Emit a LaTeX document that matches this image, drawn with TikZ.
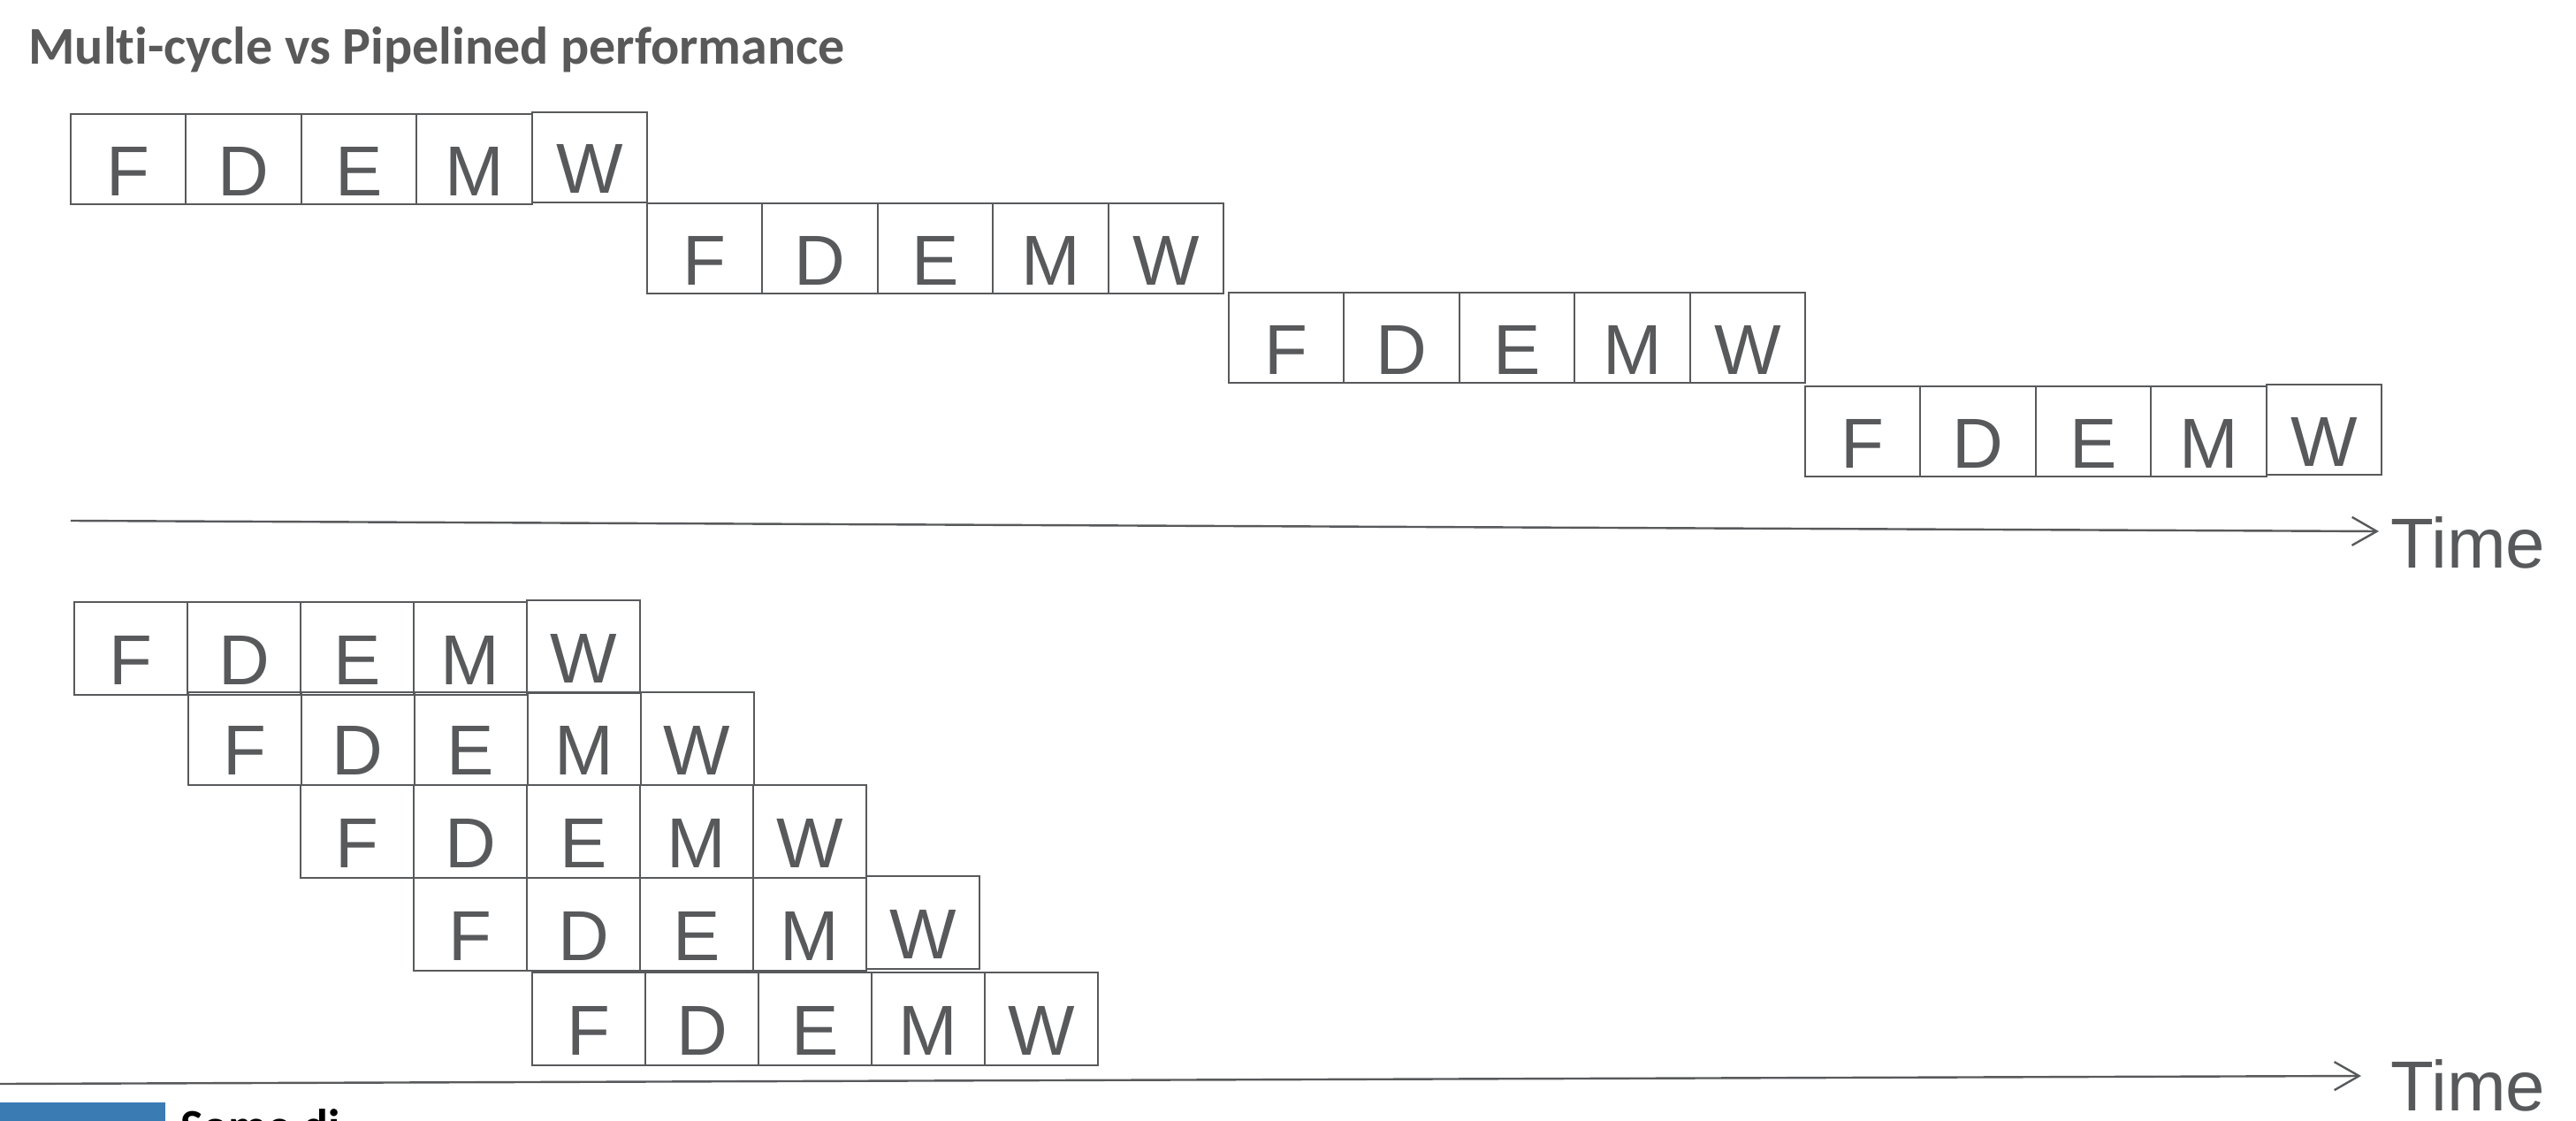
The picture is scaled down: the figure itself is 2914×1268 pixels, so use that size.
\documentclass[tikz,border=0pt]{standalone}
\usepackage{fontspec}
\setmainfont{Liberation Sans}
\newfontfamily\titlefont[Ligatures=NoCommon]{Carlito}
\usepackage{tikz}
\usetikzlibrary{positioning, arrows.meta}

\definecolor{linegray}{RGB}{88,89,91}
\definecolor{titlegray}{RGB}{89,89,89}
\definecolor{barblue}{RGB}{58,123,180}

\tikzset{
  stage/.style={draw=linegray, line width=1pt, inner sep=0pt, outer sep=0pt,
    text=linegray, font=\fontsize{40}{48}\selectfont, text height=41pt, text depth=0pt},
  mcstage/.style={stage, minimum width=65.2pt, minimum height=51pt},
  plstage/.style={stage, minimum width=64pt, minimum height=52.25pt},
  timearrow/.style={draw=linegray, line width=1.2pt, -{Straight Barb[length=14pt, width=16pt, line width=1.2pt]}},
  timelabel/.style={inner sep=0pt, anchor=base west, text=linegray, font=\fontsize{40}{48}\selectfont}
}

\begin{document}
\begin{tikzpicture}[x=0.5pt, y=-0.5pt]
  \useasboundingbox (0,0) rectangle (2914,1268);

  % Title
  \node[anchor=base west, inner sep=0pt, text=titlegray, font=\titlefont\bfseries\fontsize{30}{36}\selectfont] (title) at (32,73) {Multi-cycle vs Pipelined performance};

  % Multi-cycle
  \node[mcstage] (m1f) at (145.2,180) {F};
  \node[mcstage, right=0pt of m1f] (m1d) {D};
  \node[mcstage, right=0pt of m1d] (m1e) {E};
  \node[mcstage, right=0pt of m1e] (m1m) {M};
  \node[mcstage, right=0pt of m1m, yshift=1pt] (m1w) {W};

  \node[mcstage] (m2f) at (797.2,281) {F};
  \node[mcstage, right=0pt of m2f] (m2d) {D};
  \node[mcstage, right=0pt of m2d] (m2e) {E};
  \node[mcstage, right=0pt of m2e] (m2m) {M};
  \node[mcstage, right=0pt of m2m] (m2w) {W};

  \node[mcstage] (m3f) at (1455.2,382) {F};
  \node[mcstage, right=0pt of m3f] (m3d) {D};
  \node[mcstage, right=0pt of m3d] (m3e) {E};
  \node[mcstage, right=0pt of m3e] (m3m) {M};
  \node[mcstage, right=0pt of m3m] (m3w) {W};

  \node[mcstage] (m4f) at (2107.2,488) {F};
  \node[mcstage, right=0pt of m4f] (m4d) {D};
  \node[mcstage, right=0pt of m4d] (m4e) {E};
  \node[mcstage, right=0pt of m4e] (m4m) {M};
  \node[mcstage, right=0pt of m4m, yshift=1pt] (m4w) {W};

  \coordinate (t1s) at (80,589);
  \coordinate (t1e) at (2691,601);
  \draw[timearrow] (t1s) -- (t1e);
  \node[timelabel] (time1) at (2704,642) {Time};

  % Pipelined
  \node[plstage] (p1f) at (148,733.25) {F};
  \node[plstage, right=0pt of p1f] (p1d) {D};
  \node[plstage, right=0pt of p1d] (p1e) {E};
  \node[plstage, right=0pt of p1e] (p1m) {M};
  \node[plstage, right=0pt of p1m, yshift=1pt] (p1w) {W};

  \node[plstage] (p2f) at (276.6,835.25) {F};
  \node[plstage, right=0pt of p2f] (p2d) {D};
  \node[plstage, right=0pt of p2d] (p2e) {E};
  \node[plstage, right=0pt of p2e] (p2m) {M};
  \node[plstage, right=0pt of p2m] (p2w) {W};

  \node[plstage] (p3f) at (404,940.25) {F};
  \node[plstage, right=0pt of p3f] (p3d) {D};
  \node[plstage, right=0pt of p3d] (p3e) {E};
  \node[plstage, right=0pt of p3e] (p3m) {M};
  \node[plstage, right=0pt of p3m] (p3w) {W};

  \node[plstage] (p4f) at (532,1045.25) {F};
  \node[plstage, right=0pt of p4f] (p4d) {D};
  \node[plstage, right=0pt of p4d] (p4e) {E};
  \node[plstage, right=0pt of p4e] (p4m) {M};
  \node[plstage, right=0pt of p4m, yshift=1pt] (p4w) {W};

  \node[plstage] (p5f) at (666,1152.25) {F};
  \node[plstage, right=0pt of p5f] (p5d) {D};
  \node[plstage, right=0pt of p5d] (p5e) {E};
  \node[plstage, right=0pt of p5e] (p5m) {M};
  \node[plstage, right=0pt of p5m] (p5w) {W};

  \coordinate (t2s) at (0,1226);
  \coordinate (t2e) at (2671,1217);
  \draw[timearrow] (t2s) -- (t2e);
  \node[timelabel] (time2) at (2704,1256) {Time};

  % cut-off footer
  \fill[barblue] (0,1247) rectangle (187,1290);
  \node[anchor=base west, inner sep=0pt, font=\titlefont\bfseries\fontsize{27}{32}\selectfont] (footer) at (204,1292) {Some di};

\end{tikzpicture}
\end{document}
